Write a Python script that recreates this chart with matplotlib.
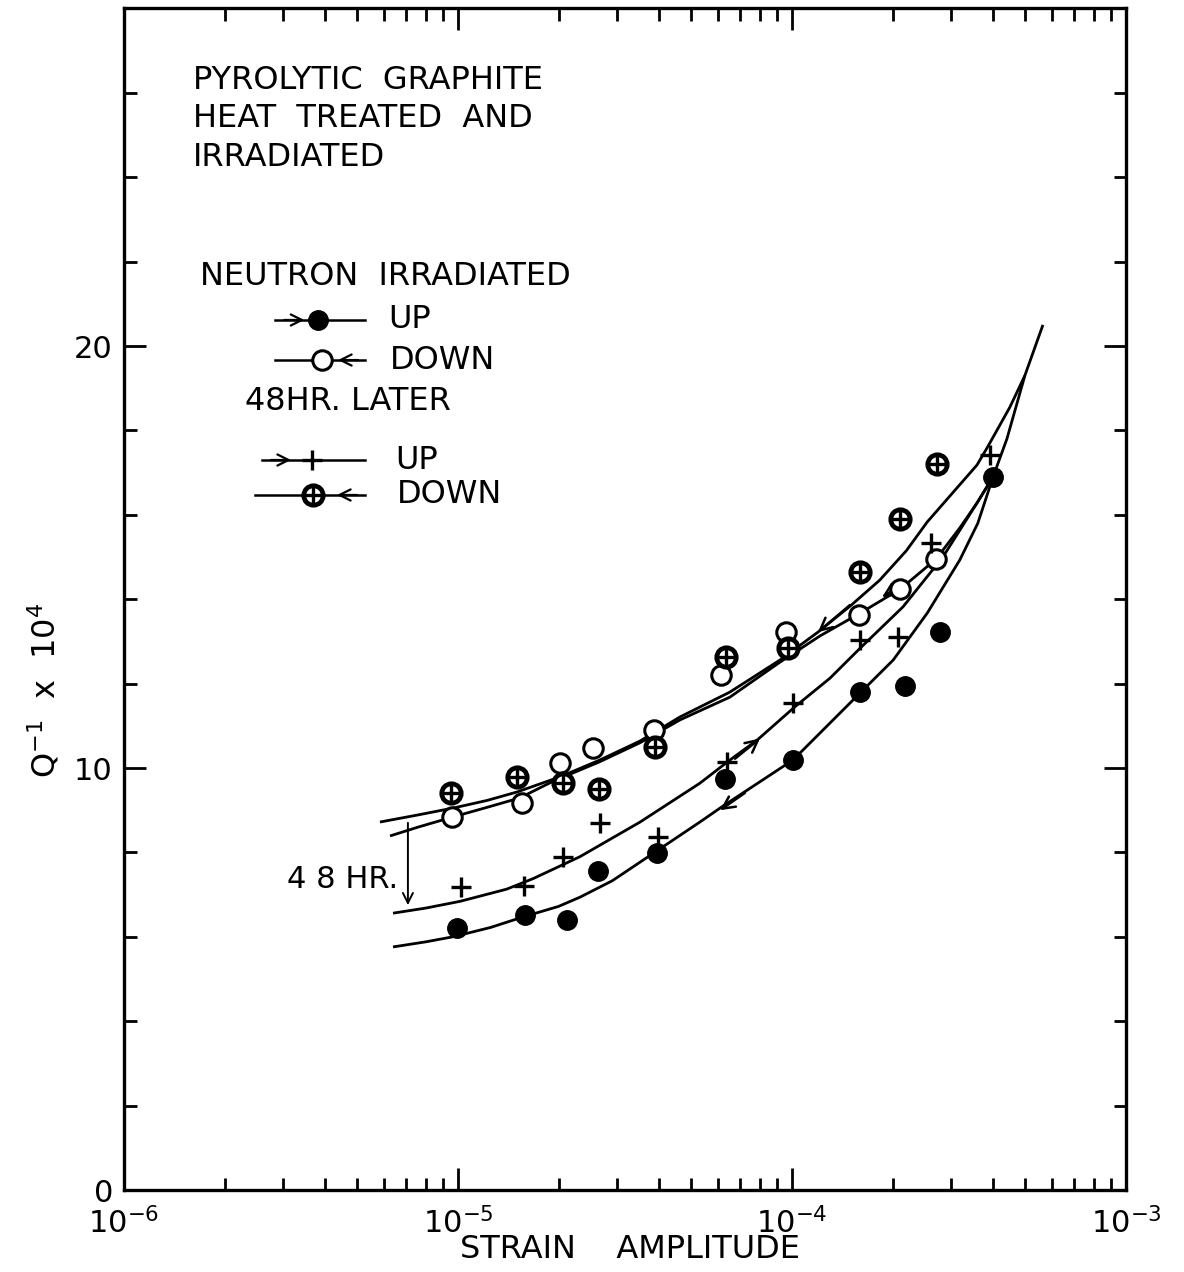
import matplotlib
matplotlib.use('Agg')
import matplotlib.pyplot as plt
from matplotlib.ticker import LogLocator, MultipleLocator, NullFormatter, FixedLocator, FixedFormatter

plt.rcParams['font.family'] = ['DejaVu Sans']
plt.rcParams['mathtext.fontset'] = 'dejavusans'

# ---------------- data ----------------
# Neutron irradiated, UP (filled circles)
up_x = [9.93e-6, 1.59e-5, 2.12e-5, 2.62e-5, 3.94e-5, 6.30e-5, 1.01e-4, 1.60e-4, 2.18e-4, 2.77e-4, 4.00e-4]
up_y = [6.21, 6.52, 6.40, 7.56, 7.99, 9.74, 10.19, 11.80, 11.94, 13.22, 16.90]
# Neutron irradiated, DOWN (open circles)
down_x = [9.60e-6, 1.55e-5, 2.02e-5, 2.54e-5, 3.86e-5, 6.13e-5, 9.60e-5, 1.59e-4, 2.11e-4, 2.70e-4]
down_y = [8.84, 9.17, 10.12, 10.47, 10.90, 12.20, 13.22, 13.63, 14.24, 14.95]
# 48 hr later, UP (plus)
later_up_x = [1.02e-5, 1.58e-5, 2.06e-5, 2.66e-5, 3.97e-5, 6.39e-5, 1.01e-4, 1.60e-4, 2.08e-4, 2.61e-4, 3.92e-4]
later_up_y = [7.18, 7.20, 7.89, 8.70, 8.36, 10.14, 11.54, 13.03, 13.10, 15.33, 17.42]
# 48 hr later, DOWN (circle-plus)
later_down_x = [9.53e-6, 1.50e-5, 2.06e-5, 2.64e-5, 3.89e-5, 6.34e-5, 9.73e-5, 1.60e-4, 2.11e-4, 2.72e-4]
later_down_y = [9.41, 9.79, 9.64, 9.50, 10.50, 12.63, 12.84, 14.64, 15.90, 17.20]

# hand-drawn guide curves
curveA_x = [5.84e-6, 7.5e-6, 9.66e-6, 1.22e-5, 1.50e-5, 2.02e-5, 2.66e-5, 3.51e-5, 4.62e-5, 6.52e-5,
            9.21e-5, 1.196e-4, 1.50e-4, 1.83e-4, 2.20e-4, 2.54e-4, 3.05e-4, 3.58e-4, 3.86e-4,
            4.49e-4, 4.98e-4, 5.64e-4]
curveA_y = [8.72, 8.88, 9.05, 9.23, 9.43, 9.79, 10.19, 10.64, 11.21, 11.80,
            12.56, 13.22, 13.85, 14.45, 15.15, 15.83, 16.55, 17.18, 17.62,
            18.55, 19.30, 20.50]
curveB_x = [6.26e-6, 7.6e-6, 9.46e-6, 1.20e-5, 1.53e-5, 1.92e-5, 2.66e-5, 3.51e-5, 4.62e-5, 6.52e-5,
            9.21e-5, 1.213e-4, 1.60e-4, 2.11e-4, 2.70e-4, 3.18e-4, 3.58e-4, 4.00e-4]
curveB_y = [8.39, 8.60, 8.82, 9.05, 9.29, 9.68, 10.15, 10.60, 11.14, 11.68,
            12.51, 13.13, 13.67, 14.24, 14.95, 15.69, 16.28, 16.90]
curveC_x = [6.39e-6, 8.0e-6, 1.014e-5, 1.40e-5, 1.68e-5, 2.32e-5, 3.51e-5, 5.30e-5, 6.52e-5, 7.86e-5,
            1.02e-4, 1.30e-4, 1.60e-4, 2.15e-4, 2.83e-4, 3.58e-4, 4.00e-4]
curveC_y = [6.56, 6.68, 6.84, 7.13, 7.38, 7.90, 8.72, 9.64, 10.19, 10.66,
            11.45, 12.13, 12.84, 13.82, 15.00, 16.28, 16.90]
curveD_x = [6.39e-6, 8.0e-6, 9.66e-6, 1.25e-5, 1.565e-5, 2.0e-5, 2.32e-5, 2.9e-5, 3.51e-5, 5.30e-5,
            6.22e-5, 1.007e-4, 1.60e-4, 2.01e-4, 2.54e-4, 3.18e-4, 3.60e-4, 4.00e-4]
curveD_y = [5.76, 5.88, 6.00, 6.22, 6.47, 6.72, 6.94, 7.33, 7.77, 8.72,
            9.10, 10.19, 11.78, 12.56, 13.67, 14.93, 15.80, 16.90]
tail_x = [4.00e-4, 4.40e-4, 4.98e-4]
tail_y = [16.90, 17.80, 19.30]

x_ticks = [1e-6, 1e-5, 1e-4, 1e-3]
x_ticklabels = ['$10^{-6}$', '$10^{-5}$', '$10^{-4}$', '$10^{-3}$']
y_ticks = [0, 10, 20]
y_ticklabels = ['0', '10', '20']

# ---------------- figure ----------------
W, H = 1184, 1272
fig = plt.figure(figsize=(W / 100, H / 100), dpi=100)
L, R, T, B = 124, 1126, 8.4, 1190
ax = fig.add_axes([L / W, 1 - B / H, (R - L) / W, (B - T) / H])
ax.set_xscale('log')
ax.set_xlim(1e-6, 1e-3)
ax.set_ylim(0, 28)

lw_curve = 2.0
for cx, cy in [(curveA_x, curveA_y), (curveB_x, curveB_y), (curveC_x, curveC_y),
               (curveD_x, curveD_y), (tail_x, tail_y)]:
    ax.plot(cx, cy, color='black', lw=lw_curve, solid_capstyle='butt',
            solid_joinstyle='round', zorder=2)

ms = 14
ax.plot(up_x, up_y, 'o', ms=ms, mfc='black', mec='black', zorder=4)
ax.plot(down_x, down_y, 'o', ms=ms, mfc='white', mec='black', mew=2.2, zorder=4)
ax.plot(later_up_x, later_up_y, '+', ms=ms, mec='black', mew=2.4, zorder=4)
ax.plot(later_down_x, later_down_y, 'o', ms=ms, mfc='white', mec='black', mew=3.4, zorder=4)
ax.plot(later_down_x, later_down_y, '+', ms=ms - 2, mec='black', mew=2.4, zorder=5)

# direction arrows on curves
arw = dict(arrowstyle='->', lw=1.8, color='black', mutation_scale=22, shrinkA=0, shrinkB=0)
ax.annotate('', xy=(1.196e-4, 13.22), xytext=(1.49e-4, 13.86), arrowprops=arw)
ax.annotate('', xy=(1.86e-4, 14.05), xytext=(2.18e-4, 14.38), arrowprops=arw)
ax.annotate('', xy=(8.02e-5, 10.70), xytext=(6.75e-5, 10.22), arrowprops=arw)
ax.annotate('', xy=(6.09e-5, 9.00), xytext=(7.23e-5, 9.41), arrowprops=arw)

# 48 hr arrow
ax.annotate('', xy=(7.08e-6, 6.75), xytext=(7.08e-6, 8.70),
            arrowprops=dict(arrowstyle='->', lw=1.4, color='black', mutation_scale=18,
                            shrinkA=0, shrinkB=0))
ax.text(6.6e-6, 7.35, '4 8 HR.', ha='right', va='center', fontsize=22)

# ---------------- texts ----------------
tk = dict(transform=ax.transAxes, ha='left', va='center', fontsize=23)
ax.text(0.0689, 0.9394, 'PYROLYTIC  GRAPHITE', **tk)
ax.text(0.0689, 0.9072, 'HEAT  TREATED  AND', **tk)
ax.text(0.0689, 0.8734, 'IRRADIATED', **tk)
ax.text(0.0758, 0.7727, 'NEUTRON  IRRADIATED', **tk)
ax.text(0.1208, 0.6677, '48HR. LATER', **tk)

def leg_row(y, x0, x1, xm, xarrow, point_right, kind, label_x, label):
    tr = ax.transAxes
    ax.plot([x0, x1], [y, y], color='black', lw=1.8, transform=tr, zorder=3)
    if kind == 'filled':
        ax.plot([xm], [y], 'o', ms=ms, mfc='black', mec='black', transform=tr, zorder=4)
    elif kind == 'open':
        ax.plot([xm], [y], 'o', ms=ms, mfc='white', mec='black', mew=2.2, transform=tr, zorder=4)
    elif kind == 'plus':
        ax.plot([xm], [y], '+', ms=ms, mec='black', mew=2.4, transform=tr, zorder=4)
    else:
        ax.plot([xm], [y], 'o', ms=ms, mfc='white', mec='black', mew=3.4, transform=tr, zorder=4)
        ax.plot([xm], [y], '+', ms=ms - 2, mec='black', mew=2.4, transform=tr, zorder=5)
    d = 0.02 if point_right else -0.02
    ax.annotate('', xy=(xarrow, y), xytext=(xarrow - d, y), xycoords='axes fraction',
                textcoords='axes fraction',
                arrowprops=dict(arrowstyle='->', lw=1.6, color='black', mutation_scale=20,
                                shrinkA=0, shrinkB=0))
    ax.text(label_x, y, label, **tk)

leg_row(0.7363, 0.1507, 0.2405, 0.1936, 0.1800, True, 'filled', 0.2635, 'UP')
leg_row(0.7024, 0.1507, 0.2405, 0.1976, 0.2136, False, 'open', 0.2655, 'DOWN')
leg_row(0.6178, 0.1377, 0.2405, 0.1876, 0.1667, True, 'plus', 0.2705, 'UP')
leg_row(0.5882, 0.1307, 0.2405, 0.1886, 0.2126, False, 'cplus', 0.2725, 'DOWN')

# ---------------- axes styling ----------------
for s in ax.spines.values():
    s.set_linewidth(2.4)
ax.xaxis.set_major_locator(FixedLocator(x_ticks))
ax.xaxis.set_major_formatter(FixedFormatter(x_ticklabels))
ax.xaxis.set_minor_locator(LogLocator(base=10, subs=range(2, 10)))
ax.xaxis.set_minor_formatter(NullFormatter())
ax.yaxis.set_major_locator(FixedLocator(y_ticks))
ax.yaxis.set_major_formatter(FixedFormatter(y_ticklabels))
ax.yaxis.set_minor_locator(MultipleLocator(2))
ax.tick_params(which='both', direction='in', top=True, right=True, width=2.0, labelsize=22)
ax.tick_params(which='major', length=16, pad=12)
ax.tick_params(which='minor', length=9)
ax.tick_params(axis='y', which='major', pad=8)

fig.text(0.532, 1 - 1250 / H, 'STRAIN    AMPLITUDE', ha='center', va='center', fontsize=23)
fig.text(45 / W, 1 - 690 / H, r'$\mathrm{Q}^{-1}$  x  $10^{4}$', rotation=90, ha='center',
         va='center', fontsize=23)

fig.savefig('out.png', dpi=100, facecolor='white')
